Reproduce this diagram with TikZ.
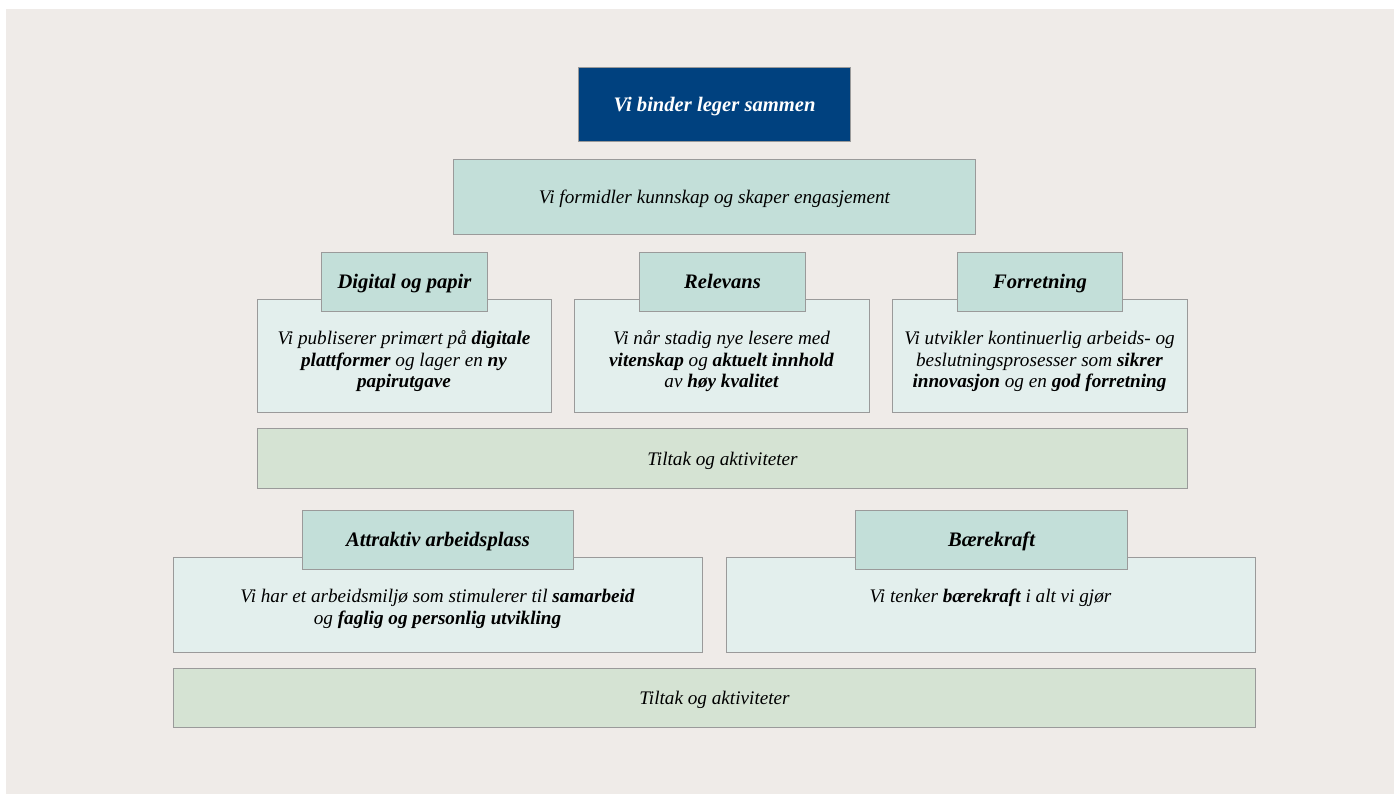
\documentclass[tikz,border=0pt]{standalone}
\usepackage{fontspec}
\setmainfont{Liberation Serif}
\definecolor{bgcol}{HTML}{EFEBE8}
\definecolor{navy}{HTML}{00417F}
\definecolor{headcol}{HTML}{C3DFD9}
\definecolor{bodycol}{HTML}{E3EFED}
\definecolor{actcol}{HTML}{D5E3D3}
\definecolor{bordercol}{HTML}{9A9A9A}
\begin{document}
\begin{tikzpicture}[x=1pt,y=-1pt,
  box/.style={draw=bordercol, line width=1pt, inner sep=0pt, anchor=north west},
  txt/.style={font=\fontsize{19.2}{21.5}\selectfont\itshape, align=center, inner sep=0pt, yshift=-2pt},
  headtxt/.style={font=\fontsize{20.6}{21.5}\selectfont\bfseries\itshape, inner sep=0pt, yshift=-2pt, text height=14.2pt, text depth=4.4pt}]
\useasboundingbox (0,0) rectangle (1394,794);
\fill[bgcol] (6,9) rectangle (1394,794);
% top
\node[box, fill=navy, minimum width=272pt, minimum height=74pt] (top) at (578,67) {};
\node[headtxt, text=white] (toptxt) at (top.center) {Vi binder leger sammen};
\node[box, fill=headcol, minimum width=522pt, minimum height=75pt] (mission) at (453,159) {};
\node[txt] (missiontxt) at (mission.center) {Vi formidler kunnskap og skaper engasjement};
% row 1 bodies
\node[box, fill=bodycol, minimum width=294pt, minimum height=113pt] (b1) at (257,299) {};
\node[box, fill=bodycol, minimum width=295pt, minimum height=113pt] (b2) at (574,299) {};
\node[box, fill=bodycol, minimum width=295pt, minimum height=113pt] (b3) at (892,299) {};
% row 1 heads
\node[box, fill=headcol, minimum width=166pt, minimum height=59pt] (h1) at (321,252) {};
\node[box, fill=headcol, minimum width=166pt, minimum height=59pt] (h2) at (639,252) {};
\node[box, fill=headcol, minimum width=165pt, minimum height=59pt] (h3) at (957,252) {};
\node[headtxt] (h1t) at (h1.center) {Digital og papir};
\node[headtxt] (h2t) at (h2.center) {Relevans};
\node[headtxt] (h3t) at (h3.center) {Forretning};
\node[txt, anchor=center] (b1t) at (404,359.5) {Vi publiserer primært på \textbf{digitale}\\\textbf{plattformer} og lager en \textbf{ny}\\\textbf{papirutgave}};
\node[txt, anchor=center] (b2t) at (721.5,359.5) {Vi når stadig nye lesere med\\\textbf{vitenskap} og \textbf{aktuelt innhold}\\av \textbf{høy kvalitet}};
\node[txt, anchor=center] (b3t) at (1039.5,359.5) {Vi utvikler kontinuerlig arbeids- og\\beslutningsprosesser som \textbf{sikrer}\\\textbf{innovasjon} og en \textbf{god forretning}};
% activities 1
\node[box, fill=actcol, minimum width=930pt, minimum height=60pt] (act1) at (257,428) {};
\node[txt] (act1t) at (act1.center) {Tiltak og aktiviteter};
% row 2 bodies
\node[box, fill=bodycol, minimum width=529pt, minimum height=95pt] (b4) at (173,557) {};
\node[box, fill=bodycol, minimum width=529pt, minimum height=95pt] (b5) at (726,557) {};
\node[box, fill=headcol, minimum width=271pt, minimum height=59pt] (h4) at (302,510) {};
\node[box, fill=headcol, minimum width=272pt, minimum height=59pt] (h5) at (855,510) {};
\node[headtxt] (h4t) at (h4.center) {Attraktiv arbeidsplass};
\node[headtxt] (h5t) at (h5.center) {Bærekraft};
\node[txt, anchor=center] (b4t) at (437.5,607) {Vi har et arbeidsmiljø som stimulerer til \textbf{samarbeid}\\og \textbf{faglig og personlig utvikling}};
\node[txt, anchor=center] (b5t) at (990.5,596) {Vi tenker \textbf{bærekraft} i alt vi gjør};
% activities 2
\node[box, fill=actcol, minimum width=1082pt, minimum height=59pt] (act2) at (173,668) {};
\node[txt] (act2t) at (act2.center) {Tiltak og aktiviteter};
\end{tikzpicture}
\end{document}
